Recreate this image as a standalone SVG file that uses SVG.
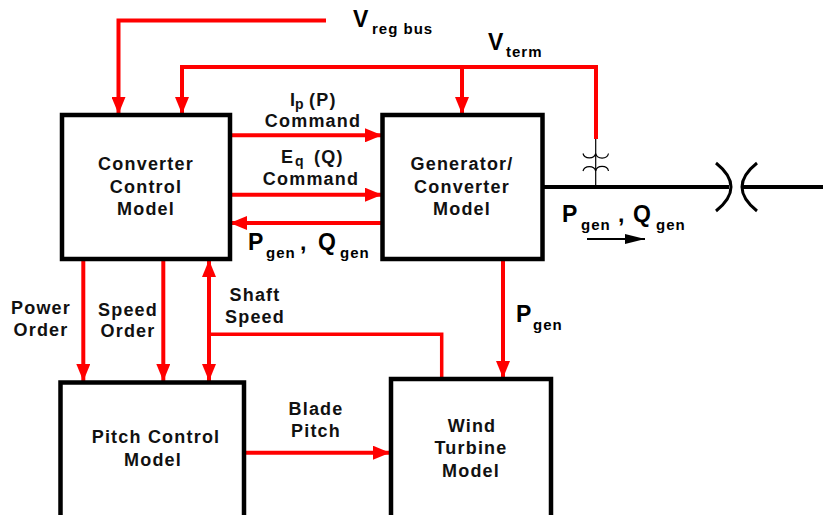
<svg xmlns="http://www.w3.org/2000/svg" width="823" height="515" viewBox="0 0 823 515">
<defs>
<marker id="ah" markerUnits="userSpaceOnUse" markerWidth="17" markerHeight="14" refX="17" refY="7" orient="auto-start-reverse"><path d="M0,0 L17,7 L0,14 z" fill="#ff0000"/></marker>
<marker id="ahk" markerUnits="userSpaceOnUse" markerWidth="20" markerHeight="10" refX="20" refY="5" orient="auto"><path d="M0,0 L20,5 L0,10 z" fill="#000"/></marker>
<style>
.box{fill:#fff;stroke:#000;stroke-width:4.5}
.lbl{font-family:"Liberation Sans",Arial,sans-serif;font-weight:bold;font-size:18px;letter-spacing:1.2px;fill:#111;text-anchor:middle}
.big{font-family:"Liberation Sans",Arial,sans-serif;font-weight:bold;font-size:23px;fill:#000}
.sub{font-family:"Liberation Sans",Arial,sans-serif;font-weight:bold;font-size:15px;letter-spacing:1px;fill:#000}
.sm{font-family:"Liberation Sans",Arial,sans-serif;font-weight:bold;font-size:14px;fill:#111}
.r{fill:none;stroke:#ff0000;stroke-width:4}
.rr{fill:none;stroke:#ff0000;stroke-width:4;marker-end:url(#ah)}
.k{fill:none;stroke:#000;stroke-width:4}
.t{fill:none;stroke:#000;stroke-width:1.2}
</style>
</defs>
<rect width="823" height="515" fill="#fff"/>
<g id="connectors">
<path class="rr" d="M326,20.5 H118.5 V114"/>
<path class="r" d="M182,114 V67 H596 V139"/>
<path class="rr" d="M182,80 V114"/>
<path class="rr" d="M462,67 V114"/>
<path class="rr" d="M230,135.3 H382"/>
<path class="rr" d="M230,194.7 H382"/>
<path class="rr" d="M382,223 H230"/>
<path class="rr" d="M83.3,259 V381"/>
<path class="rr" d="M163.3,259 V381"/>
<path class="rr" d="M209,260 V381" style="marker-start:url(#ah)"/>
<path class="r" style="stroke-width:3.5" d="M209,334.3 H441.7 V379"/>
<path class="rr" d="M503,259 V378"/>
<path class="rr" d="M241.7,452.7 H390"/>
<path class="k" d="M543,187 H729"/>
<path class="k" d="M743,187 H823"/>
<path class="t" d="M595.7,139 V187"/>
<path class="t" d="M583,153.5 A6.5,5.5 0 0 0 595.7,153.5 A6.5,5.5 0 0 0 608.5,153.5"/>
<path class="t" d="M583,171 A6.5,5.5 0 0 1 595.7,171 A6.5,5.5 0 0 1 608.5,171"/>
<path d="M716,163 Q746,187 716,211" fill="none" stroke="#000" stroke-width="3"/>
<path d="M757,163 Q727,187 757,211" fill="none" stroke="#000" stroke-width="3"/>
<path d="M587,239 H645" fill="none" stroke="#000" stroke-width="2" marker-end="url(#ahk)"/>
</g>
<g id="converter-control">
<rect class="box" x="62" y="115" width="168" height="144"/>
<text class="lbl" x="146" y="170">Converter</text>
<text class="lbl" x="146" y="193">Control</text>
<text class="lbl" x="146" y="215">Model</text>
</g>
<g id="generator-converter">
<rect class="box" x="382.5" y="115" width="160" height="144"/>
<text class="lbl" x="462" y="170">Generator/</text>
<text class="lbl" x="462" y="193">Converter</text>
<text class="lbl" x="462" y="215">Model</text>
</g>
<g id="pitch-control">
<rect class="box" x="60.5" y="382.5" width="183.5" height="145"/>
<text class="lbl" x="156" y="443">Pitch Control</text>
<text class="lbl" x="153" y="466">Model</text>
</g>
<g id="wind-turbine">
<rect class="box" x="391" y="379" width="160" height="150"/>
<text class="lbl" x="472" y="432">Wind</text>
<text class="lbl" x="471" y="454">Turbine</text>
<text class="lbl" x="471" y="477">Model</text>
</g>
<g id="labels">
<text class="big" x="353" y="27">V</text><text class="sub" x="372" y="34">reg bus</text>
<text class="big" x="488" y="50">V</text><text class="sub" x="506" y="57">term</text>
<text class="lbl" x="290" y="106" style="text-anchor:start">I</text><text class="sm" x="295" y="109">p</text><text class="lbl" x="309" y="106" style="text-anchor:start">(P)</text>
<text class="lbl" x="313" y="127">Command</text>
<text class="lbl" x="281" y="163" style="text-anchor:start">E</text><text class="sm" x="295" y="166">q</text><text class="lbl" x="314" y="163" style="text-anchor:start">(Q)</text>
<text class="lbl" x="311" y="185">Command</text>
<text class="big" x="248" y="250">P</text><text class="sub" x="266" y="258">gen</text>
<text class="big" x="300" y="250">,</text>
<text class="big" x="318" y="250">Q</text><text class="sub" x="340" y="258">gen</text>
<text class="big" x="562" y="222">P</text><text class="sub" x="581" y="230">gen</text>
<text class="big" x="618" y="222">,</text>
<text class="big" x="633" y="222">Q</text><text class="sub" x="656" y="230">gen</text>
<text class="big" x="516" y="322">P</text><text class="sub" x="533" y="330">gen</text>
<text class="lbl" x="41" y="314">Power</text>
<text class="lbl" x="41" y="336">Order</text>
<text class="lbl" x="128" y="316">Speed</text>
<text class="lbl" x="128" y="337">Order</text>
<text class="lbl" x="255" y="301">Shaft</text>
<text class="lbl" x="255" y="323">Speed</text>
<text class="lbl" x="316" y="415">Blade</text>
<text class="lbl" x="316" y="437">Pitch</text>
</g>
</svg>
